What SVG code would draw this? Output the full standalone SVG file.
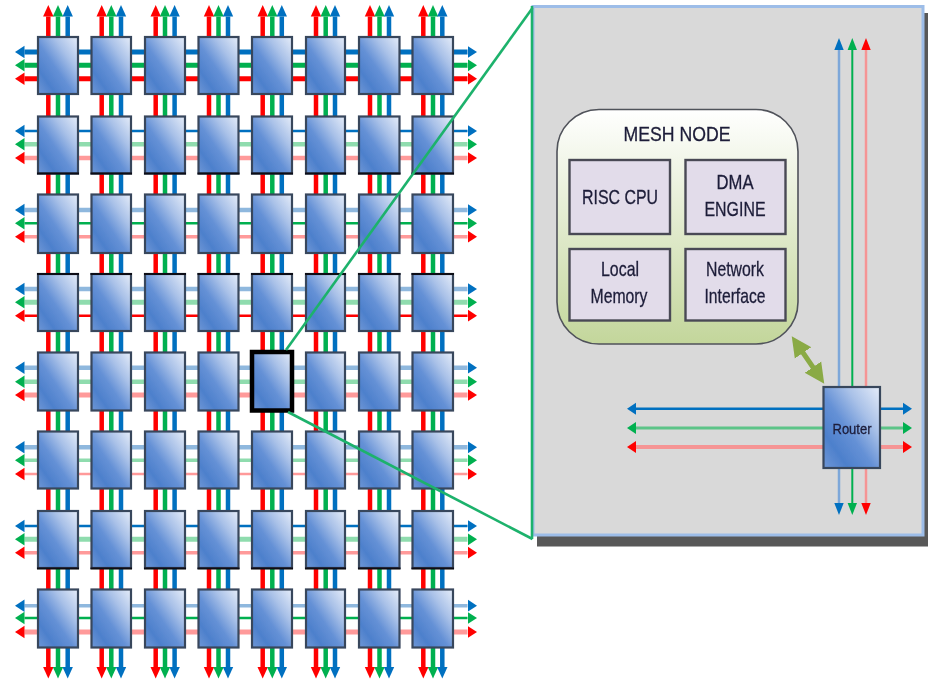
<svg xmlns="http://www.w3.org/2000/svg" width="928" height="679" viewBox="0 0 928 679">
<style>
.n{fill:url(#g);stroke:#38465c;stroke-width:2.200}
.k{stroke:#0a0a14;stroke-width:2.2;fill:none}
line{fill:none}
.b,.bp,.g,.gp,.r,.rp,.pb,.pg,.pr{marker-start:var(--m);marker-end:var(--m)}
.b{stroke:#0070c0;--m:url(#ab)}.bp{stroke:#8fb8de;--m:url(#ab)}
.g{stroke:#00b050;--m:url(#ag)}.gp{stroke:#8fdcae;--m:url(#ag)}
.r{stroke:#ff0000;--m:url(#ar)}.rp{stroke:#ff9a9a;--m:url(#ar)}
.v{stroke-width:4.5}.v .b{--m:url(#vb)}.v .g{--m:url(#vg)}.v .r{--m:url(#vr)}
.w2{stroke-width:2.5}.w3{stroke-width:3.5}.w4{stroke-width:4.5}.w5{stroke-width:5}
.pb{--m:url(#pab)}.pg{--m:url(#pag)}.pr{--m:url(#par)}
.pv .pb{--m:url(#qb)}.pv .pg{--m:url(#qg)}.pv .pr{--m:url(#qr)}
.box{fill:#e2dcea;stroke:#4a4a54;stroke-width:2.400}
text{font-family:"Liberation Sans",Arial,sans-serif;text-anchor:middle;fill:#1c1c38;stroke:#1c1c38;stroke-width:.3;font-size:21px}
.z{stroke:#1eb26c;stroke-width:2.600;fill:none}
</style>
<defs>
<linearGradient id="g" x1="1" y1="0" x2="0" y2="1"><stop offset="0" stop-color="#e6edf9"/><stop offset=".3" stop-color="#a9c1e8"/><stop offset=".55" stop-color="#6591d6"/><stop offset=".78" stop-color="#4d80cc"/><stop offset="1" stop-color="#6f97d6"/></linearGradient>
<linearGradient id="mg" x1="0" y1="0" x2="0" y2="1"><stop offset="0" stop-color="#ffffff"/><stop offset="1" stop-color="#c3d69b"/></linearGradient>
<filter id="s" filterUnits="userSpaceOnUse" x="0" y="0" width="928" height="679"><feGaussianBlur stdDeviation="0.6"/></filter>
<filter id="t" filterUnits="userSpaceOnUse" x="0" y="0" width="928" height="679"><feGaussianBlur stdDeviation="0.45"/></filter>
<marker id="ab" markerUnits="userSpaceOnUse" markerWidth="12" markerHeight="14" refX="0" refY="7" orient="auto-start-reverse"><path d="M0 .8 9.500 7 0 13.200z" fill="#0070c0"/></marker>
<marker id="ag" markerUnits="userSpaceOnUse" markerWidth="12" markerHeight="14" refX="0" refY="7" orient="auto-start-reverse"><path d="M0 .8 9.500 7 0 13.200z" fill="#00b050"/></marker>
<marker id="ar" markerUnits="userSpaceOnUse" markerWidth="12" markerHeight="14" refX="0" refY="7" orient="auto-start-reverse"><path d="M0 .8 9.500 7 0 13.200z" fill="#ff0000"/></marker>
<marker id="vb" markerUnits="userSpaceOnUse" markerWidth="14" markerHeight="12" refX="0" refY="6" orient="auto-start-reverse"><path d="M0 .8 11.500 6 0 11.200z" fill="#0070c0"/></marker>
<marker id="vg" markerUnits="userSpaceOnUse" markerWidth="14" markerHeight="12" refX="0" refY="6" orient="auto-start-reverse"><path d="M0 .8 11.500 6 0 11.200z" fill="#00b050"/></marker>
<marker id="vr" markerUnits="userSpaceOnUse" markerWidth="14" markerHeight="12" refX="0" refY="6" orient="auto-start-reverse"><path d="M0 .8 11.500 6 0 11.200z" fill="#ff0000"/></marker>
<marker id="pab" markerUnits="userSpaceOnUse" markerWidth="12" markerHeight="13" refX="0" refY="6.500" orient="auto-start-reverse"><path d="M0 .5 9 6.500 0 12.500z" fill="#0070c0"/></marker>
<marker id="pag" markerUnits="userSpaceOnUse" markerWidth="12" markerHeight="13" refX="0" refY="6.500" orient="auto-start-reverse"><path d="M0 .5 9 6.500 0 12.500z" fill="#00b050"/></marker>
<marker id="par" markerUnits="userSpaceOnUse" markerWidth="12" markerHeight="13" refX="0" refY="6.500" orient="auto-start-reverse"><path d="M0 .5 9 6.500 0 12.500z" fill="#ff0000"/></marker>
<marker id="qb" markerUnits="userSpaceOnUse" markerWidth="14" markerHeight="11" refX="0" refY="5.500" orient="auto-start-reverse"><path d="M0 .8 12 5.500 0 10.200z" fill="#0070c0"/></marker>
<marker id="qg" markerUnits="userSpaceOnUse" markerWidth="14" markerHeight="11" refX="0" refY="5.500" orient="auto-start-reverse"><path d="M0 .8 12 5.500 0 10.200z" fill="#00b050"/></marker>
<marker id="qr" markerUnits="userSpaceOnUse" markerWidth="14" markerHeight="11" refX="0" refY="5.500" orient="auto-start-reverse"><path d="M0 .8 12 5.500 0 10.200z" fill="#ff0000"/></marker>
<marker id="ol" markerUnits="userSpaceOnUse" markerWidth="22" markerHeight="22" refX="1" refY="11" orient="auto-start-reverse"><path d="M0 1 20 11 0 21z" fill="#8aaa45"/></marker>
</defs>

<g id="connectors" filter="url(#s)">
<g class="v">
<line class="r" x1="48.3" y1="667" x2="48.3" y2="16.500"/><line class="g" x1="58" y1="667" x2="58" y2="16.500"/><line class="b" x1="67.7" y1="667" x2="67.7" y2="16.500"/>
<line class="r" x1="101.7" y1="667" x2="101.7" y2="16.500"/><line class="g" x1="111.3" y1="667" x2="111.3" y2="16.500"/><line class="b" x1="121" y1="667" x2="121" y2="16.500"/>
<line class="r" x1="155.7" y1="667" x2="155.7" y2="16.500"/><line class="g" x1="165" y1="667" x2="165" y2="16.500"/><line class="b" x1="174.6" y1="667" x2="174.6" y2="16.500"/>
<line class="r" x1="209" y1="667" x2="209" y2="16.500"/><line class="g" x1="218.5" y1="667" x2="218.5" y2="16.500"/><line class="b" x1="228" y1="667" x2="228" y2="16.500"/>
<line class="r" x1="262.7" y1="667" x2="262.7" y2="16.500"/><line class="g" x1="272.3" y1="667" x2="272.3" y2="16.500"/><line class="b" x1="281.8" y1="667" x2="281.8" y2="16.500"/>
<line class="r" x1="316" y1="667" x2="316" y2="16.500"/><line class="g" x1="325.7" y1="667" x2="325.7" y2="16.500"/><line class="b" x1="335" y1="667" x2="335" y2="16.500"/>
<line class="r" x1="370" y1="667" x2="370" y2="16.500"/><line class="g" x1="379.5" y1="667" x2="379.5" y2="16.500"/><line class="b" x1="389" y1="667" x2="389" y2="16.500"/>
<line class="r" x1="423.3" y1="667" x2="423.3" y2="16.500"/><line class="g" x1="433" y1="667" x2="433" y2="16.500"/><line class="b" x1="442.3" y1="667" x2="442.3" y2="16.500"/>
</g>
<line class="b w5" x1="24.500" y1="52" x2="467.500" y2="52"/><line class="g w5" x1="24.500" y1="65.3" x2="467.500" y2="65.3"/><line class="r w5" x1="24.500" y1="78.7" x2="467.500" y2="78.7"/>
<line class="b w2" x1="24.500" y1="131" x2="467.500" y2="131"/><line class="gp w4" x1="24.500" y1="144.3" x2="467.500" y2="144.3"/><line class="rp w4" x1="24.500" y1="158" x2="467.500" y2="158"/>
<line class="bp w4" x1="24.500" y1="210" x2="467.500" y2="210"/><line class="g w2" x1="24.500" y1="223.3" x2="467.500" y2="223.3"/><line class="rp w3" x1="24.500" y1="236.7" x2="467.500" y2="236.7"/>
<line class="bp w4" x1="24.500" y1="289" x2="467.500" y2="289"/><line class="gp w5" x1="24.500" y1="302.3" x2="467.500" y2="302.3"/><line class="r w2" x1="24.500" y1="315.7" x2="467.500" y2="315.7"/>
<line class="bp w4" x1="24.500" y1="367.7" x2="467.500" y2="367.7"/><line class="gp w4" x1="24.500" y1="381.7" x2="467.500" y2="381.7"/><line class="rp w5" x1="24.500" y1="395" x2="467.500" y2="395"/>
<line class="bp w4" x1="24.500" y1="447.3" x2="467.500" y2="447.3"/><line class="gp w3" x1="24.500" y1="460.3" x2="467.500" y2="460.3"/><line class="rp w2" x1="24.500" y1="474" x2="467.500" y2="474"/>
<line class="b w2" x1="24.500" y1="526" x2="467.500" y2="526"/><line class="gp w5" x1="24.500" y1="539.3" x2="467.500" y2="539.3"/><line class="rp w3" x1="24.500" y1="552.7" x2="467.500" y2="552.7"/>
<line class="bp w3" x1="24.500" y1="605.7" x2="467.500" y2="605.7"/><line class="g w2" x1="24.500" y1="618" x2="467.500" y2="618"/><line class="rp w5" x1="24.500" y1="632" x2="467.500" y2="632"/>
</g>

<g id="grid" filter="url(#s)">
<g id="n00"><rect class="n" x="38" y="37" width="40" height="57"/></g><g id="n01"><rect class="n" x="91.5" y="37" width="39.5" height="57"/></g><g id="n02"><rect class="n" x="145" y="37" width="40" height="57"/></g><g id="n03"><rect class="n" x="198.5" y="37" width="40" height="57"/></g><g id="n04"><rect class="n" x="252" y="37" width="40" height="57"/></g><g id="n05"><rect class="n" x="306" y="37" width="39" height="57"/></g><g id="n06"><rect class="n" x="359" y="37" width="40.5" height="57"/></g><g id="n07"><rect class="n" x="412.5" y="37" width="40.5" height="57"/></g>
<g id="n10"><rect class="n" x="38" y="116.5" width="40" height="57"/><path class="k" d="M37 173.5H79"/></g><g id="n11"><rect class="n" x="91.5" y="116.5" width="39.5" height="57"/><path class="k" d="M90.500 173.5H132"/></g><g id="n12"><rect class="n" x="145" y="116.5" width="40" height="57"/><path class="k" d="M144 173.500H186"/></g><g id="n13"><rect class="n" x="198.5" y="116.5" width="40" height="57"/><path class="k" d="M197.500 173.500H239.500"/></g><g id="n14"><rect class="n" x="252" y="116.5" width="40" height="57"/><path class="k" d="M251 173.500H293"/></g><g id="n15"><rect class="n" x="306" y="116.5" width="39" height="57"/><path class="k" d="M305 173.500H346"/></g><g id="n16"><rect class="n" x="359" y="116.5" width="40.5" height="57"/><path class="k" d="M358 173.500H400.500"/></g><g id="n17"><rect class="n" x="412.5" y="116.5" width="40.5" height="57"/><path class="k" d="M411.500 173.500H454"/></g>
<g id="n20"><rect class="n" x="38" y="194.500" width="40" height="58.500"/></g><g id="n21"><rect class="n" x="91.5" y="194.500" width="39.5" height="58.500"/></g><g id="n22"><rect class="n" x="145" y="194.500" width="40" height="58.500"/></g><g id="n23"><rect class="n" x="198.5" y="194.500" width="40" height="58.500"/></g><g id="n24"><rect class="n" x="252" y="194.500" width="40" height="58.500"/></g><g id="n25"><rect class="n" x="306" y="194.500" width="39" height="58.500"/></g><g id="n26"><rect class="n" x="359" y="194.500" width="40.5" height="58.500"/></g><g id="n27"><rect class="n" x="412.5" y="194.500" width="40.5" height="58.500"/></g>
<g id="n30"><rect class="n" x="38" y="274" width="40" height="57"/><path class="k" d="M37 274H79"/></g><g id="n31"><rect class="n" x="91.5" y="274" width="39.5" height="57"/><path class="k" d="M90.500 274H132"/></g><g id="n32"><rect class="n" x="145" y="274" width="40" height="57"/><path class="k" d="M144 274H186"/></g><g id="n33"><rect class="n" x="198.5" y="274" width="40" height="57"/><path class="k" d="M197.500 274H239.500"/></g><g id="n34"><rect class="n" x="252" y="274" width="40" height="57"/><path class="k" d="M251 274H293"/></g><g id="n35"><rect class="n" x="306" y="274" width="39" height="57"/><path class="k" d="M305 274H346"/></g><g id="n36"><rect class="n" x="359" y="274" width="40.5" height="57"/><path class="k" d="M358 274H400.500"/></g><g id="n37"><rect class="n" x="412.5" y="274" width="40.5" height="57"/><path class="k" d="M411.500 274H454"/></g>
<g id="n40"><rect class="n" x="38" y="352.500" width="40" height="58"/></g><g id="n41"><rect class="n" x="91.5" y="352.500" width="39.5" height="58"/></g><g id="n42"><rect class="n" x="145" y="352.500" width="40" height="58"/></g><g id="n43"><rect class="n" x="198.5" y="352.500" width="40" height="58"/></g><g id="n44"><rect class="n" x="252" y="352" width="40" height="58.500" style="stroke:#000;stroke-width:4.500"/></g><g id="n45"><rect class="n" x="306" y="352.500" width="39" height="58"/></g><g id="n46"><rect class="n" x="359" y="352.500" width="40.5" height="58"/></g><g id="n47"><rect class="n" x="412.5" y="352.500" width="40.5" height="58"/></g>
<g id="n50"><rect class="n" x="38" y="431.500" width="40" height="57"/></g><g id="n51"><rect class="n" x="91.5" y="431.500" width="39.5" height="57"/></g><g id="n52"><rect class="n" x="145" y="431.500" width="40" height="57"/></g><g id="n53"><rect class="n" x="198.5" y="431.500" width="40" height="57"/></g><g id="n54"><rect class="n" x="252" y="431.500" width="40" height="57"/></g><g id="n55"><rect class="n" x="306" y="431.500" width="39" height="57"/></g><g id="n56"><rect class="n" x="359" y="431.500" width="40.5" height="57"/></g><g id="n57"><rect class="n" x="412.5" y="431.500" width="40.5" height="57"/></g>
<g id="n60"><rect class="n" x="38" y="511" width="40" height="57"/><path class="k" d="M37 568.500H79"/></g><g id="n61"><rect class="n" x="91.5" y="511" width="39.5" height="57"/><path class="k" d="M90.500 568.500H132"/></g><g id="n62"><rect class="n" x="145" y="511" width="40" height="57"/><path class="k" d="M144 568.500H186"/></g><g id="n63"><rect class="n" x="198.5" y="511" width="40" height="57"/><path class="k" d="M197.500 568.500H239.500"/></g><g id="n64"><rect class="n" x="252" y="511" width="40" height="57"/><path class="k" d="M251 568.500H293"/></g><g id="n65"><rect class="n" x="306" y="511" width="39" height="57"/><path class="k" d="M305 568.500H346"/></g><g id="n66"><rect class="n" x="359" y="511" width="40.5" height="57"/><path class="k" d="M358 568.500H400.500"/></g><g id="n67"><rect class="n" x="412.5" y="511" width="40.5" height="57"/><path class="k" d="M411.500 568.500H454"/></g>
<g id="n70"><rect class="n" x="38" y="589.500" width="40" height="58"/></g><g id="n71"><rect class="n" x="91.5" y="589.500" width="39.5" height="58"/></g><g id="n72"><rect class="n" x="145" y="589.500" width="40" height="58"/></g><g id="n73"><rect class="n" x="198.5" y="589.500" width="40" height="58"/></g><g id="n74"><rect class="n" x="252" y="589.500" width="40" height="58"/></g><g id="n75"><rect class="n" x="306" y="589.500" width="39" height="58"/></g><g id="n76"><rect class="n" x="359" y="589.500" width="40.5" height="58"/></g><g id="n77"><rect class="n" x="412.5" y="589.500" width="40.5" height="58"/></g>
</g>

<g id="panel" filter="url(#t)">
<rect x="537" y="13" width="391" height="533.500" fill="#595959"/>
<rect x="533" y="6.500" width="390" height="528.500" fill="#d9d9d9" stroke="#9dbde8" stroke-width="3"/>
<line class="z" x1="532" y1="6" x2="532" y2="539"/>
</g>

<g id="zoom-lines" filter="url(#t)">
<line class="z" x1="532.500" y1="8" x2="286" y2="350"/>
<line class="z" x1="532.500" y1="539" x2="288" y2="412"/>
</g>

<g id="panel-connectors" filter="url(#t)">
<g class="pv">
<line class="pb" stroke="#7da7d9" stroke-width="2.500" x1="839" y1="503" x2="839" y2="50"/>
<line class="pg" stroke="#00b050" stroke-width="2" x1="852.300" y1="503" x2="852.300" y2="50"/>
<line class="pr" stroke="#f59494" stroke-width="2.500" x1="866" y1="503" x2="866" y2="50"/>
</g>
<line class="pb" stroke="#0070c0" stroke-width="2.500" x1="636" y1="408.700" x2="903" y2="408.700"/>
<line class="pg" stroke="#5cc488" stroke-width="2.800" x1="636" y1="428" x2="903" y2="428"/>
<line class="pr" stroke="#f59494" stroke-width="4" x1="636" y1="447" x2="903" y2="447"/>
<line stroke="#8aaa45" stroke-width="5" marker-start="url(#ol)" marker-end="url(#ol)" x1="802.500" y1="352" x2="813.500" y2="368"/>
</g>

<g id="mesh-node">
<rect x="557" y="109.500" width="241" height="234.500" rx="42" fill="url(#mg)" stroke="#50525a" stroke-width="1.600" filter="url(#t)"/>
<text filter="url(#t)" x="677" y="141" textLength="107" lengthAdjust="spacingAndGlyphs">MESH NODE</text>
</g>
<g id="risc-cpu"><rect class="box" x="569.500" y="160" width="100.500" height="74" filter="url(#t)"/><text filter="url(#t)" x="620" y="204" textLength="76" lengthAdjust="spacingAndGlyphs">RISC CPU</text></g>
<g id="dma-engine"><rect class="box" x="685.500" y="160" width="100" height="74" filter="url(#t)"/><text filter="url(#t)" x="735" y="189" textLength="37" lengthAdjust="spacingAndGlyphs">DMA</text><text filter="url(#t)" x="735" y="216" textLength="61" lengthAdjust="spacingAndGlyphs">ENGINE</text></g>
<g id="local-memory"><rect class="box" x="569.500" y="249" width="100.500" height="71.500" filter="url(#t)"/><text filter="url(#t)" x="620" y="276" textLength="38" lengthAdjust="spacingAndGlyphs">Local</text><text filter="url(#t)" x="619" y="303" textLength="57" lengthAdjust="spacingAndGlyphs">Memory</text></g>
<g id="network-interface"><rect class="box" x="685.500" y="249" width="100" height="71.500" filter="url(#t)"/><text filter="url(#t)" x="735" y="276" textLength="58" lengthAdjust="spacingAndGlyphs">Network</text><text filter="url(#t)" x="735" y="303" textLength="61" lengthAdjust="spacingAndGlyphs">Interface</text></g>
<g id="router"><rect class="n" x="823.500" y="387" width="56.500" height="81" filter="url(#t)"/><text filter="url(#t)" x="852" y="434" style="font-size:15px" textLength="39" lengthAdjust="spacingAndGlyphs">Router</text></g>
</svg>
